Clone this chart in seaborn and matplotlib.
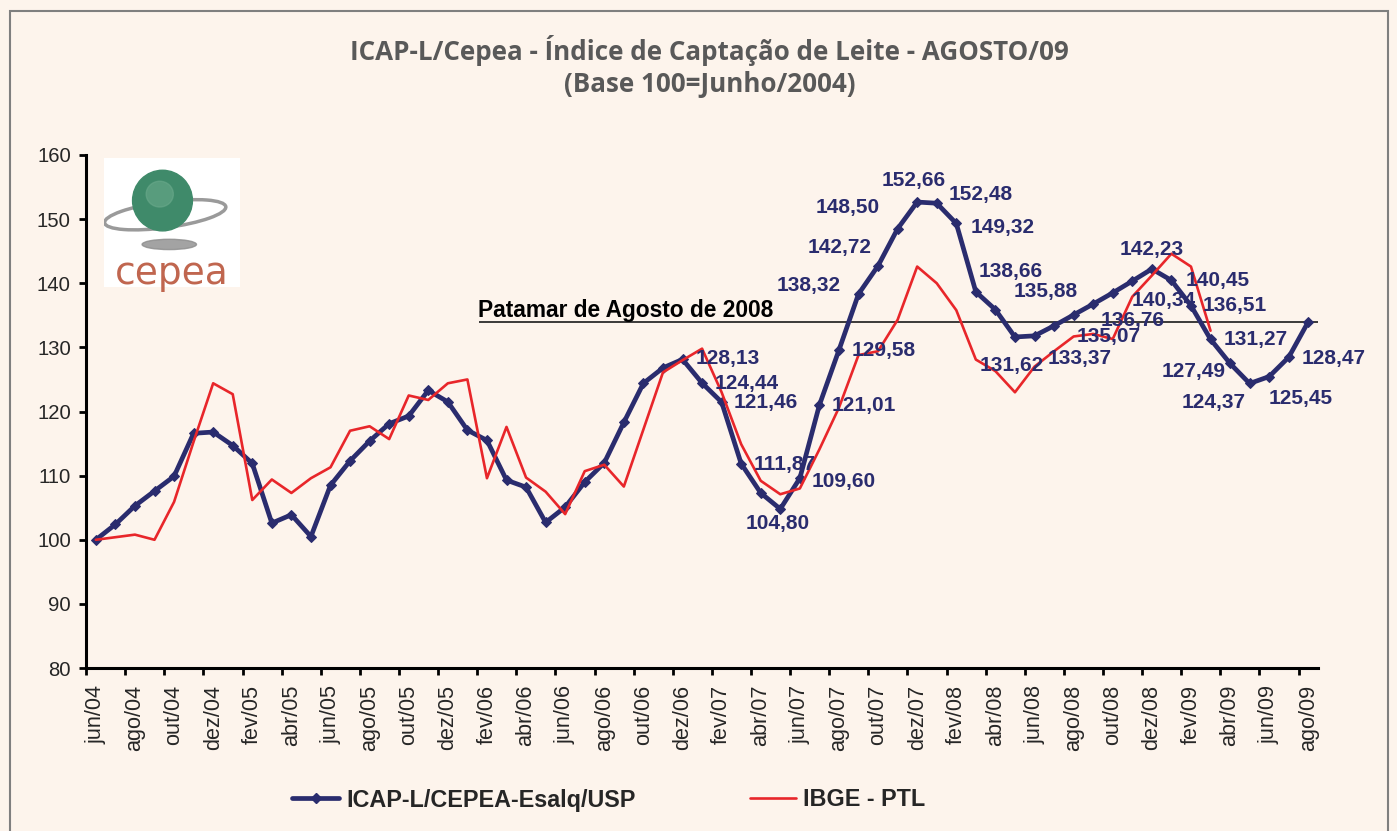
import numpy as np
import pandas as pd
import seaborn as sns
import matplotlib.pyplot as plt
from matplotlib.patches import Rectangle, Ellipse
from matplotlib.lines import Line2D

# categorias: jun/04 .. ago/09
meses = ['jan', 'fev', 'mar', 'abr', 'mai', 'jun', 'jul', 'ago', 'set', 'out', 'nov', 'dez']
periodos = ['%s/%02d' % (meses[(5 + k) % 12], 4 + (5 + k) // 12) for k in range(63)]

# ICAP-L/CEPEA-Esalq/USP
icap = [100.0, 102.4, 105.3, 107.6, 109.9, 116.6, 116.8, 114.7, 111.9, 102.6,
        103.9, 100.5, 108.5, 112.3, 115.4, 118.1, 119.3, 123.3, 121.5, 117.1,
        115.5, 109.3, 108.2, 102.7, 105.1, 109.0, 112.0, 118.3, 124.4, 126.8,
        128.13, 124.44, 121.46, 111.87, 107.3, 104.80, 109.60, 121.01, 129.58, 138.32,
        142.72, 148.50, 152.66, 152.48, 149.32, 138.66, 135.88, 131.62, 131.8, 133.37,
        135.07, 136.76, 138.5, 140.34, 142.23, 140.45, 136.51, 131.27, 127.49, 124.37,
        125.45, 128.47, 134.0]

# IBGE - PTL (ate mar/09)
ibge = [100.0, 100.4, 100.8, 100.0, 105.9, 115.3, 124.4, 122.7, 106.2, 109.4,
        107.3, 109.6, 111.3, 117.0, 117.7, 115.7, 122.5, 121.8, 124.4, 125.0,
        109.6, 117.6, 109.7, 107.5, 104.0, 110.7, 111.7, 108.3, 117.2, 126.1,
        128.0, 129.8, 123.0, 114.9, 109.2, 107.1, 108.0, 114.1, 120.6, 128.8,
        129.4, 134.3, 142.6, 140.0, 135.8, 128.1, 126.3, 123.0, 127.0, 129.4,
        131.7, 132.1, 131.3, 137.9, 141.2, 144.6, 142.6, 132.6]

patamar = 133.9

# pontos com rotulo -> deslocamento do rotulo em pixels (dx, dy)
rotulos = {30: (45, 1), 31: (45, 0), 32: (44, 0), 33: (43, -1), 35: (-3, -15),
           36: (44, -3), 37: (44, 0), 38: (45, 0), 39: (-50, 9), 40: (-38, 18),
           41: (-50, 21), 42: (-3, 22), 43: (44, 9), 44: (46, -4), 45: (35, 20),
           46: (50, 18), 47: (-3, -29), 49: (26, -33), 50: (35, -22), 51: (39, -16),
           53: (31, -19), 54: (0, 19), 55: (46, 0), 56: (44, 0), 57: (45, 0),
           58: (-36, -8), 59: (-36, -19), 60: (32, -22), 61: (45, -1)}

azul = '#2a2c6e'
vermelho = '#e8262a'
fundo = '#fdf4ec'

sns.set_style('ticks')
plt.rcParams['font.family'] = ['Liberation Sans', 'DejaVu Sans']

fig = plt.figure(figsize=(13.97, 8.31), dpi=100, facecolor=fundo)
ax = fig.add_axes([0.0616, 0.1961, 0.8819, 0.6174])
ax.set_facecolor(fundo)

d_icap = pd.DataFrame({'pos': np.arange(len(icap)), 'valor': icap})
d_ibge = pd.DataFrame({'pos': np.arange(len(ibge)), 'valor': ibge})
sns.lineplot(data=d_icap, x='pos', y='valor', ax=ax, color=azul, lw=3.4,
             marker='D', markersize=5.5, markeredgecolor=azul, zorder=3)
sns.lineplot(data=d_ibge, x='pos', y='valor', ax=ax, color=vermelho, lw=1.9, zorder=4)

ax.hlines(patamar, 19.6, 62.5, color='#1a1a1a', lw=1.2, zorder=2)
ax.text(19.55, patamar + 0.8, 'Patamar de Agosto de 2008', fontsize=16.4,
        fontweight='bold', color='black', va='baseline', ha='left')

for i, (dx, dy) in rotulos.items():
    ax.annotate(('%.2f' % icap[i]).replace('.', ','), (i, icap[i]),
                xytext=(dx * 0.72, dy * 0.72), textcoords='offset points',
                ha='center', va='center', fontsize=15, fontweight='bold',
                color=azul, zorder=5)

ax.set_xlim(-0.5, 62.5)
ax.set_ylim(80, 160)
ax.set_xticks(range(0, 63, 2))
ax.set_xticklabels(periodos[::2], rotation=90, fontsize=15.6)
ax.set_xticks(np.arange(-0.5, 62, 2), minor=True)
ax.tick_params(axis='x', which='major', length=0, pad=12)
ax.tick_params(axis='x', which='minor', length=5, width=2, direction='out', color='black')
ax.set_yticks(range(80, 161, 10))
ax.tick_params(axis='y', length=5, width=2, direction='out', labelsize=14.6, pad=6, color='black')
ax.set_xlabel('')
ax.set_ylabel('')
for s in ['top', 'right']:
    ax.spines[s].set_visible(False)
for s in ['left', 'bottom']:
    ax.spines[s].set_linewidth(2.2)
    ax.spines[s].set_color('black')

# titulo
fig.text(0.508, 1 - 50 / 831, 'ICAP-L/Cepea - Índice de Captação de Leite - AGOSTO/09',
         ha='center', va='center', fontsize=18.7, fontweight='bold', color='#595959',
         family=['Open Sans', 'DejaVu Sans'])
fig.text(0.508, 1 - 85 / 831, '(Base 100=Junho/2004)',
         ha='center', va='center', fontsize=18.7, fontweight='bold', color='#595959',
         family=['Open Sans', 'DejaVu Sans'])

# legenda
handles = [Line2D([], [], color=azul, lw=3.4, marker='D', markersize=5.5),
           Line2D([], [], color=vermelho, lw=1.9)]
fig.legend(handles, ['ICAP-L/CEPEA-Esalq/USP', 'IBGE - PTL'], loc='center',
           bbox_to_anchor=(0.436, 1 - 800 / 831), ncol=2, frameon=False,
           prop={'weight': 'bold', 'size': 16.8}, handlelength=2.0,
           handletextpad=0.3, columnspacing=4.9)

# moldura
fig.patches.append(Rectangle((10 / 1397, -0.05), 1378 / 1397, 1.05 - 11 / 831,
                             transform=fig.transFigure, fill=False,
                             edgecolor='#7f7f7f', lw=1.5))

# logotipo cepea (aproximado)
lg = fig.add_axes([104 / 1397, 1 - 287 / 831, 136 / 1397, 129 / 831])
lg.set_facecolor('white')
lg.set_xlim(0, 1)
lg.set_ylim(0, 1)
lg.set_xticks([])
lg.set_yticks([])
for s in lg.spines.values():
    s.set_visible(False)
lg.add_patch(Ellipse((0.45, 0.56), 0.9, 0.2, angle=8, fill=False, edgecolor='#9a9a9a', lw=2.5))
lg.add_patch(Ellipse((0.43, 0.67), 0.44, 0.47, color='#3f8a6a'))
lg.add_patch(Ellipse((0.41, 0.72), 0.2, 0.2, color='#6aa98b', alpha=0.6))
lg.add_patch(Ellipse((0.48, 0.33), 0.4, 0.08, color='#8c8c8c', alpha=0.8))
lg.text(0.5, 0.1, 'cepea', ha='center', va='center', fontsize=27, color='#c0664f',
        family=['DejaVu Sans'])

fig.savefig('out.png', dpi=100, facecolor=fundo)
